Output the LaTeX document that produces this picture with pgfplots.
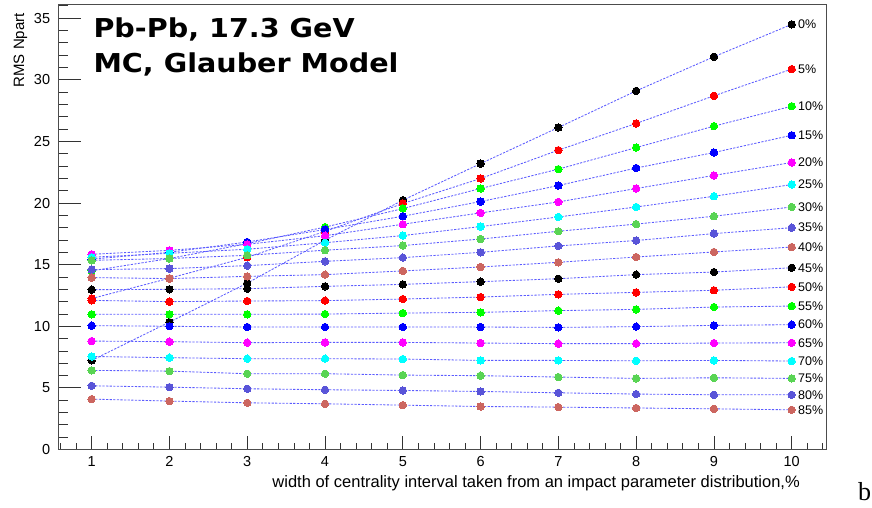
\documentclass[border=0pt]{standalone}
\usepackage{fontspec}
\setmainfont{Liberation Sans}
\newfontfamily\titlefont{DejaVu Sans}
\newfontfamily\serifb{Liberation Serif}
\usepackage{pgfplots}
\usepackage{pgfplotstable}
\pgfplotsset{compat=1.18}
\newcommand\fs[1]{\fontsize{#1}{#1}\selectfont}
\definecolor{c0}{HTML}{000000}
\definecolor{c1}{HTML}{FF0000}
\definecolor{c2}{HTML}{00FF00}
\definecolor{c3}{HTML}{0000FF}
\definecolor{c4}{HTML}{FF00FF}
\definecolor{c5}{HTML}{00FFFF}
\definecolor{c6}{HTML}{59D454}
\definecolor{c7}{HTML}{5954D8}
\definecolor{c8}{HTML}{CC6660}
\definecolor{lc}{HTML}{5C5CFF}
\pgfplotstableread{
x s0 s5 s10 s15 s20 s25 s30 s35 s40 s45 s50 s55 s60 s65 s70 s75 s80 s85
1 7.23 12.25 14.50 15.45 15.84 15.60 15.35 14.60 13.95 12.97 12.10 10.97 10.05 8.80 7.55 6.42 5.17 4.09
2 10.34 13.90 15.50 16.00 16.16 15.92 15.50 14.68 13.87 13.00 12.00 10.97 10.00 8.75 7.45 6.36 5.06 3.93
3 13.50 15.60 16.70 16.84 16.65 16.25 15.76 14.92 14.05 13.05 12.05 10.97 9.94 8.67 7.37 6.15 4.93 3.79
4 16.98 17.70 18.05 17.85 17.35 16.78 16.17 15.27 14.19 13.24 12.08 10.99 9.94 8.69 7.37 6.15 4.85 3.71
5 20.23 19.96 19.55 18.93 18.28 17.36 16.55 15.57 14.49 13.40 12.21 11.07 9.94 8.69 7.34 6.04 4.79 3.60
6 23.20 21.99 21.18 20.12 19.20 18.09 17.08 16.00 14.81 13.62 12.37 11.13 9.94 8.64 7.23 5.99 4.71 3.49
7 26.13 24.29 22.75 21.42 20.09 18.87 17.71 16.52 15.19 13.86 12.59 11.27 9.91 8.59 7.23 5.88 4.60 3.44
8 29.10 26.46 24.50 22.84 21.18 19.68 18.29 16.96 15.62 14.19 12.75 11.37 9.97 8.59 7.20 5.77 4.50 3.37
9 31.87 28.70 26.24 24.10 22.24 20.55 18.93 17.52 16.03 14.40 12.92 11.56 10.07 8.64 7.23 5.82 4.44 3.30
10 34.50 30.87 27.86 25.50 23.29 21.50 19.68 18.00 16.43 14.75 13.20 11.64 10.13 8.66 7.18 5.77 4.44 3.22
}\datatable
\pgfplotsset{
  ser/.style={draw=lc, line width=0.85pt, dash pattern=on 2.2pt off 1.4pt,
    mark=*, mark size=3.7pt, mark options={solid, fill=#1, draw=#1, line width=0pt}},
}
\tikzset{lab/.style={pos=1, anchor=west, xshift=6pt, inner sep=0pt, text=black, font=\fs{12.5}}}
\begin{document}
\begin{tikzpicture}[x=1pt,y=1pt]
\path[use as bounding box] (0,0) rectangle (872,-507);
% x ticks axis
\begin{axis}[at={(58.3pt,-449.5pt)}, anchor=south west, scale only axis,
  width=768.4pt, height=445.5pt, xmin=0.571, xmax=10.45, ymin=0, ymax=36.15,
  axis line style={draw=none},
  xtick={1,...,10}, minor xtick={0.6,0.8,...,10.45}, ytick=\empty,
  tick align=inside, xtick pos=bottom,
  major tick length=13.5pt, minor tick length=7pt,
  tick style={black!80, line width=0.8pt},
  /pgf/number format/assume math mode=true,
  xticklabel style={font=\fs{14.5}, inner sep=0pt, yshift=-6.5pt},
]
\end{axis}
% main axis
\begin{axis}[at={(58.3pt,-449.5pt)}, anchor=south west, scale only axis,
  width=768.4pt, height=445.5pt, xmin=0.571, xmax=10.45, ymin=0, ymax=36.15,
  clip=false,
  axis line style={black!70, line width=0.9pt},
  xtick=\empty, ytick={0,5,...,35}, minor ytick={1,...,36},
  tick align=inside, ytick pos=left,
  major tick length=22.5pt, minor tick length=10pt,
  tick style={black!80, line width=0.8pt},
  /pgf/number format/assume math mode=true,
  yticklabel style={font=\fs{14.5}, inner sep=0pt, xshift=-8pt},
]
\addplot[ser=c0] table[x=x,y=s0]{\datatable} node[lab]{0\%};
\addplot[ser=c1] table[x=x,y=s5]{\datatable} node[lab]{5\%};
\addplot[ser=c2] table[x=x,y=s10]{\datatable} node[lab]{10\%};
\addplot[ser=c3] table[x=x,y=s15]{\datatable} node[lab]{15\%};
\addplot[ser=c4] table[x=x,y=s20]{\datatable} node[lab]{20\%};
\addplot[ser=c5] table[x=x,y=s25]{\datatable} node[lab]{25\%};
\addplot[ser=c6] table[x=x,y=s30]{\datatable} node[lab]{30\%};
\addplot[ser=c7] table[x=x,y=s35]{\datatable} node[lab]{35\%};
\addplot[ser=c8] table[x=x,y=s40]{\datatable} node[lab]{40\%};
\addplot[ser=c0] table[x=x,y=s45]{\datatable} node[lab]{45\%};
\addplot[ser=c1] table[x=x,y=s50]{\datatable} node[lab]{50\%};
\addplot[ser=c2] table[x=x,y=s55]{\datatable} node[lab]{55\%};
\addplot[ser=c3] table[x=x,y=s60]{\datatable} node[lab]{60\%};
\addplot[ser=c4] table[x=x,y=s65]{\datatable} node[lab]{65\%};
\addplot[ser=c5] table[x=x,y=s70]{\datatable} node[lab]{70\%};
\addplot[ser=c6] table[x=x,y=s75]{\datatable} node[lab]{75\%};
\addplot[ser=c7] table[x=x,y=s80]{\datatable} node[lab]{80\%};
\addplot[ser=c8] table[x=x,y=s85]{\datatable} node[lab]{85\%};
\end{axis}
\node[anchor=base west, inner sep=0pt, xscale=1.1, font=\titlefont\bfseries\fs{26}] at (93.3,-37.3) {Pb-Pb, 17.3 GeV};
\node[anchor=base west, inner sep=0pt, xscale=1.1, font=\titlefont\bfseries\fs{26}] at (93.3,-72.7) {MC, Glauber Model};
\node[rotate=90, anchor=base east, inner sep=0pt, font=\fs{15}] at (24,-13) {RMS Npart};
\node[anchor=base east, inner sep=0pt, font=\fs{16.5}] at (800,-487) {width of centrality interval taken from an impact parameter distribution,\%};
\node[anchor=base west, inner sep=0pt, font=\serifb\fs{26}] at (858,-500) {b};
\end{tikzpicture}
\end{document}
